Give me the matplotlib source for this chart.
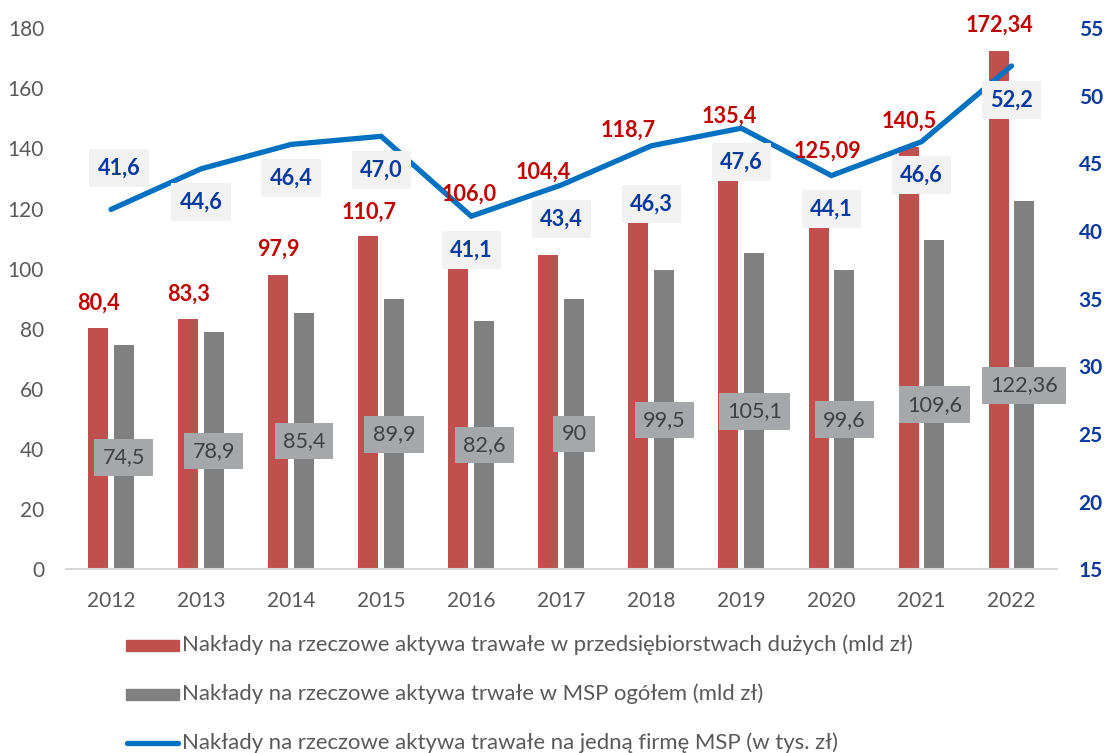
import numpy as np
import matplotlib.pyplot as plt
from matplotlib.patches import Rectangle
from matplotlib.lines import Line2D

plt.rcParams['font.family'] = ['Lato', 'DejaVu Sans']

years = ['2012', '2013', '2014', '2015', '2016', '2017', '2018', '2019', '2020', '2021', '2022']
duze = [80.4, 83.3, 97.9, 110.7, 106.0, 104.4, 118.7, 135.4, 125.09, 140.5, 172.34]
msp = [74.5, 78.9, 85.4, 89.9, 82.6, 90, 99.5, 105.1, 99.6, 109.6, 122.36]
na_firme = [41.6, 44.6, 46.4, 47.0, 41.1, 43.4, 46.3, 47.6, 44.1, 46.6, 52.2]

duze_txt = ['80,4', '83,3', '97,9', '110,7', '106,0', '104,4', '118,7', '135,4', '125,09', '140,5', '172,34']
msp_txt = ['74,5', '78,9', '85,4', '89,9', '82,6', '90', '99,5', '105,1', '99,6', '109,6', '122,36']
firma_txt = ['41,6', '44,6', '46,4', '47,0', '41,1', '43,4', '46,3', '47,6', '44,1', '46,6', '52,2']

legend_txt = ['Nakłady na rzeczowe aktywa trawałe w przedsiębiorstwach dużych (mld zł)',
              'Nakłady na rzeczowe aktywa trwałe w MSP ogółem (mld zł)',
              'Nakłady na rzeczowe aktywa trawałe na jedną firmę MSP (w tys. zł)']

# hand placed label positions (like in the excel original)
red_lab_y = [88.6, 91.6, 106.4, 118.8, 124.8, 132.0, 145.9, 150.7, 138.9, 148.9, 180.8]
red_lab_dx = [-0.144, -0.144, -0.144, -0.138, -0.022, -0.2, -0.256, -0.133, -0.044, -0.139, -0.133]
blue_lab_y = [44.66, 42.15, 43.92, 44.51, 38.60, 40.89, 42.0, 45.10, 41.63, 44.14, 49.68]
blue_lab_dx = [0.09, 0, 0, 0, 0, 0, 0, 0, 0, 0, 0]

c_red = '#C0504D'
c_grey = '#808080'
c_line = '#0070C0'
c_red_txt = '#C00000'
c_blue_txt = '#0A3A9E'
c_axis_txt = '#595959'

fs = 15
fs_lab = 15.6
fs_leg = 15.9

fig = plt.figure(figsize=(11.07, 7.53), dpi=100)
ax = fig.add_axes([0.0596, 0.2437, 0.8948, 0.7191])
ax2 = ax.twinx()

x = np.arange(len(years))
w = 0.222
off = 0.143

ax.bar(x - off, duze, w, color=c_red, zorder=2)
ax.bar(x + off, msp, w, color=c_grey, zorder=2)
ax2.plot(x, na_firme, color=c_line, lw=3.8, solid_capstyle='round', solid_joinstyle='miter', zorder=2)

ax.set_xlim(-0.5, 10.5)
ax.set_ylim(0, 180)
ax.set_yticks(range(0, 181, 20))
ax2.set_ylim(15, 55)
ax2.set_yticks(range(15, 56, 5))
ax.set_xticks(x)
ax.set_xticklabels(years)

for s in ['top', 'left', 'right']:
    ax.spines[s].set_visible(False)
for s in ax2.spines:
    ax2.spines[s].set_visible(False)
ax.spines['bottom'].set_color('#D9D9D9')
ax.spines['bottom'].set_linewidth(1.5)

ax.tick_params(axis='y', length=0, pad=15.8, labelsize=fs, labelcolor=c_axis_txt)
ax.tick_params(axis='x', length=0, pad=15.5, labelsize=fs, labelcolor=c_axis_txt)
ax2.tick_params(axis='y', length=0, pad=16, labelsize=fs, labelcolor=c_blue_txt)
for t in ax2.get_yticklabels():
    t.set_fontweight('bold')

# labels
for i in range(len(years)):
    ax2.text(x[i] + red_lab_dx[i], red_lab_y[i], duze_txt[i], transform=ax.transData,
             ha='center', va='center', fontsize=fs_lab, fontweight='bold', color=c_red_txt, zorder=5)
    ax2.text(x[i] + off, msp[i] / 2, msp_txt[i], transform=ax.transData,
             ha='center', va='center', fontsize=fs_lab, color='#404040', zorder=5,
             bbox=dict(boxstyle='square,pad=0.38', fc='#A5A7AA', ec='none'))
    ax2.text(x[i] + blue_lab_dx[i], blue_lab_y[i], firma_txt[i],
             ha='center', va='center', fontsize=fs_lab, fontweight='bold', color=c_blue_txt, zorder=5,
             bbox=dict(boxstyle='square,pad=0.38', fc='#F2F2F2', ec='none'))

# legend, done by hand
leg_y = [645, 694, 743]
for i in range(3):
    yc = 1 - leg_y[i] / 753
    if i < 2:
        fig.patches.append(Rectangle((126 / 1107, yc - 5.5 / 753), 53 / 1107, 11 / 753,
                                     transform=fig.transFigure, color=[c_red, c_grey][i]))
    else:
        fig.lines.append(Line2D([127 / 1107, 178 / 1107], [yc, yc], transform=fig.transFigure,
                                color=c_line, lw=3.8, solid_capstyle='round'))
    fig.text(182 / 1107, yc, legend_txt[i], ha='left', va='center', fontsize=fs_leg, color=c_axis_txt)

plt.savefig('out.png', dpi=100)
